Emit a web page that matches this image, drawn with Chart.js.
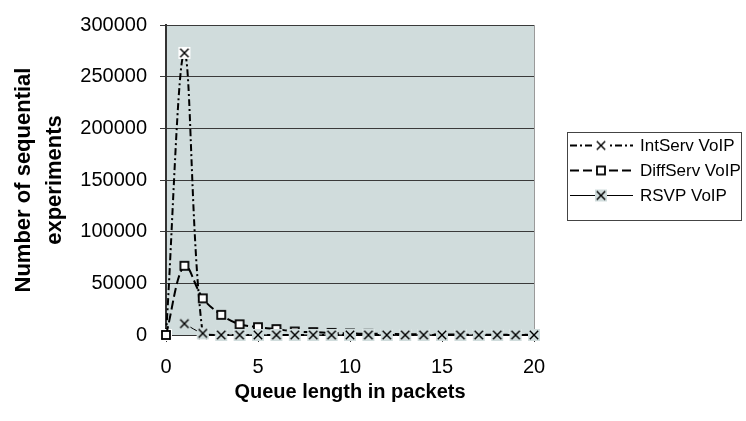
<!DOCTYPE html>
<html>
<head>
<meta charset="utf-8">
<script src="https://cdn.jsdelivr.net/npm/chart.js@4"></script>
<style>
html,body{margin:0;padding:0;background:#fff;}
#wrap{width:746px;height:421px;position:relative;}
</style>
</head>
<body>
<div id="wrap"><canvas id="c" width="746" height="421"></canvas></div>
<script>
// ---- data ----
const queueLengths = [0,1,2,3,4,5,6,7,8,9,10,11,12,13,14,15,16,17,18,19,20];
const intServVoip  = [0,273000,500,0,0,0,0,0,0,0,0,0,0,0,0,0,0,0,0,0,0];
const diffServVoip = [0,67000,35500,19500,10400,7600,5700,3400,2800,2000,1500,1200,1000,800,600,500,400,300,200,200,100];
const rsvpVoip     = [null,11000,1600,0,0,0,0,0,0,0,0,0,0,0,0,0,0,0,0,0,0];
const seriesNames  = ['IntServ VoIP','DiffServ VoIP','RSVP VoIP'];
const xTickValues  = [0,5,10,15,20];
const yTickValues  = [0,50000,100000,150000,200000,250000,300000];
const xTitle = 'Queue length in packets';
const yTitle = ['Number of sequential','experiments'];

const FONT = "'Liberation Sans', Arial, Helvetica, sans-serif";
const PLOT_BG = '#d0dcdc';

function makeMarker(kind, fill){
  const s = 14;
  const c = document.createElement('canvas');
  c.width = s; c.height = s;
  const g = c.getContext('2d');
  if (kind === 'x') {
    g.fillStyle = fill; g.fillRect(1,1,12,12);
    g.strokeStyle = '#000'; g.lineWidth = 1.4;
    g.beginPath();
    g.moveTo(2.8,2.8); g.lineTo(11.2,11.2);
    g.moveTo(11.2,2.8); g.lineTo(2.8,11.2);
    g.stroke();
  } else {
    g.fillStyle = '#fff'; g.fillRect(3,3,8,8);
    g.strokeStyle = '#000'; g.lineWidth = 1.8;
    g.strokeRect(3,3,8,8);
  }
  return c;
}
const mIntServ = makeMarker('x', '#ffffff');
const mDiffServ = makeMarker('sq');
const mRsvp = makeMarker('x', PLOT_BG);

const pts = arr => queueLengths.map((q,i)=>({x:q, y:arr[i]}));

const styles = [
  {dash:[7,3,2,3], width:2, marker:mIntServ},
  {dash:[9,4], width:2, marker:mDiffServ},
  {dash:[], width:1, marker:mRsvp}
];

const bgPlugin = {
  id:'plotbg',
  beforeDraw(chart){
    const {ctx, chartArea:a} = chart;
    ctx.save();
    ctx.fillStyle = PLOT_BG;
    ctx.fillRect(a.left, a.top, a.right-a.left, a.bottom-a.top);
    ctx.restore();
  },
  afterDatasetsDraw(chart){
    const {ctx, chartArea:a} = chart;
    ctx.save();
    ctx.strokeStyle = '#9a9a9a'; ctx.lineWidth = 1;
    ctx.beginPath(); ctx.moveTo(a.right+0.5, a.top); ctx.lineTo(a.right+0.5, a.bottom-6); ctx.stroke();
    ctx.restore();
  }
};

const legendPlugin = {
  id:'customLegend',
  afterDraw(chart){
    const ctx = chart.ctx;
    ctx.save();
    const bx = 567.5, by = 132.5, bw = 174, bh = 88;
    ctx.fillStyle = '#fff'; ctx.fillRect(bx,by,bw,bh);
    ctx.strokeStyle = '#444'; ctx.lineWidth = 1; ctx.strokeRect(bx,by,bw,bh);
    const rows = [145,170,195];
    seriesNames.forEach((name,i)=>{
      const y = rows[i]; const st = styles[i];
      ctx.strokeStyle = '#000'; ctx.lineWidth = st.width;
      ctx.setLineDash(st.dash);
      ctx.beginPath(); ctx.moveTo(570, y+0.5); ctx.lineTo(633, y+0.5); ctx.stroke();
      ctx.setLineDash([]);
      ctx.drawImage(st.marker, 601-7, y-7+0.5);
      ctx.fillStyle = '#000';
      ctx.font = '17px ' + FONT;
      ctx.textBaseline = 'middle'; ctx.textAlign = 'left';
      ctx.fillText(name, 640, y+1);
    });
    ctx.restore();
  }
};

new Chart(document.getElementById('c'), {
  type:'line',
  data:{
    datasets:[
      {label:seriesNames[0], data:pts(intServVoip), order:3},
      {label:seriesNames[1], data:pts(diffServVoip), order:2},
      {label:seriesNames[2], data:pts(rsvpVoip), order:1}
    ].map((d,i)=>Object.assign(d,{
      borderColor:'#000', backgroundColor:'#000', borderWidth:styles[i].width,
      borderDash:styles[i].dash, pointStyle:styles[i].marker, pointRadius:6,
      pointHoverRadius:6, tension:0.35, fill:false, clip:false, spanGaps:false
    }))
  },
  options:{
    responsive:false, animation:false, events:[],
    devicePixelRatio:1,
    layout:{padding:{left:0, right:212, top:18, bottom:0}},
    plugins:{legend:{display:false}, tooltip:{enabled:false}},
    scales:{
      x:{
        type:'linear', min:0, max:20,
        afterBuildTicks(s){ s.ticks = xTickValues.map(v=>({value:v})); },
        afterFit(s){ s.height = 86; },
        ticks:{font:{family:FONT, size:20}, color:'#000', padding:13, maxRotation:0,
               callback:v=>String(v)},
        grid:{drawOnChartArea:false, drawTicks:true, tickLength:7, color:'#333'},
        border:{color:'#333', width:1},
        title:{display:true, text:xTitle, color:'#000',
               font:{family:FONT, size:20, weight:'bold', lineHeight:1.2},
               padding:{top:0,bottom:17}}
      },
      y:{
        min:0, max:300000,
        afterBuildTicks(s){ s.ticks = yTickValues.map(v=>({value:v})); },
        afterFit(s){ s.width = 166; },
        ticks:{font:{family:FONT, size:20}, color:'#000', padding:13,
               callback:v=>String(v)},
        grid:{color:'#3a3a3a', lineWidth:1, tickLength:6, drawTicks:true},
        border:{color:'#333', width:2},
        title:{display:true, text:yTitle, color:'#000',
               font:{family:FONT, size:22, weight:'bold', lineHeight:1.4},
               padding:{top:8.5,bottom:0}}
      }
    }
  },
  plugins:[bgPlugin, legendPlugin]
});
</script>
</body>
</html>
